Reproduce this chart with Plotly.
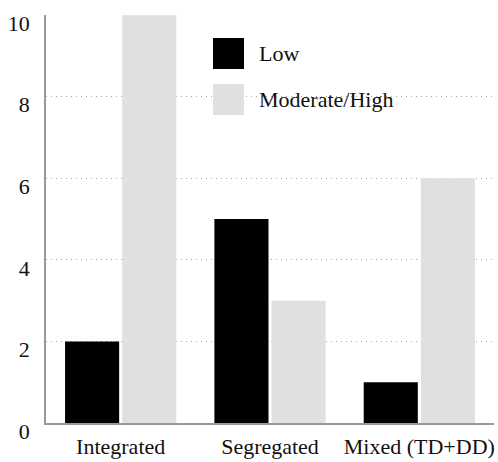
import plotly.graph_objects as go

categories = ["Integrated", "Segregated", "Mixed (TD+DD)"]
low_values = [2, 5, 1]
high_values = [10, 3, 6]
series_names = ["Low", "Moderate/High"]
y_ticks = [0, 2, 4, 6, 8, 10]

LOW_COLOR = "#000000"
HIGH_COLOR = "#dfe0e2"
FONT = "Palatino Linotype, Book Antiqua, Palatino, Liberation Serif, serif"
FS = 22

fig = go.Figure()
fig.add_trace(go.Bar(x=categories, y=low_values, name=series_names[0],
                     marker=dict(color=LOW_COLOR, line=dict(width=0))))
fig.add_trace(go.Bar(x=categories, y=high_values, name=series_names[1],
                     marker=dict(color=HIGH_COLOR, line=dict(width=0))))

fig.update_layout(
    width=498, height=462,
    margin=dict(l=46, r=4, t=15, b=39, autoexpand=False),
    paper_bgcolor="white", plot_bgcolor="white",
    barmode="group", bargap=0.235, bargroupgap=0.053,
    showlegend=False,
    font=dict(family=FONT, size=FS, color="#111111"),
)
fig.update_xaxes(
    automargin=False,
    showline=True, linecolor="#999999", linewidth=1.5,
    showgrid=False, ticks="", tickfont=dict(size=FS),
    ticklabelstandoff=3,
)
fig.update_yaxes(
    automargin=False,
    range=[0, 10.005], tickvals=y_ticks,
    showline=True, linecolor="#999999", linewidth=1.5,
    showgrid=True, gridcolor="#a8a8a8", griddash="1px,4px", gridwidth=1,
    zeroline=False, ticks="", tickfont=dict(size=FS),
    ticklabelstandoff=10, ticklabelshift=8,
)

# legend drawn as layout shapes + text
leg_items = [(series_names[0], LOW_COLOR, 0), (series_names[1], HIGH_COLOR, 1)]
for name, color, i in leg_items:
    y0 = 423 - 69 - i * 46
    fig.add_shape(type="rect", xref="paper", yref="paper",
                  x0=(213 - 46) / 448, x1=(244 - 46) / 448,
                  y0=(y0) / 408, y1=(y0 + 31) / 408,
                  fillcolor=color, line=dict(width=0), layer="above")
    fig.add_annotation(xref="paper", yref="paper",
                       x=(257 - 46) / 448, y=(y0 + 15.5) / 408,
                       text=name, showarrow=False, xanchor="left", yanchor="middle",
                       font=dict(size=FS, family=FONT, color="#111111"))

fig.write_html("out.html", config={"displayModeBar": False},
               post_script="document.body.style.margin='0';")
